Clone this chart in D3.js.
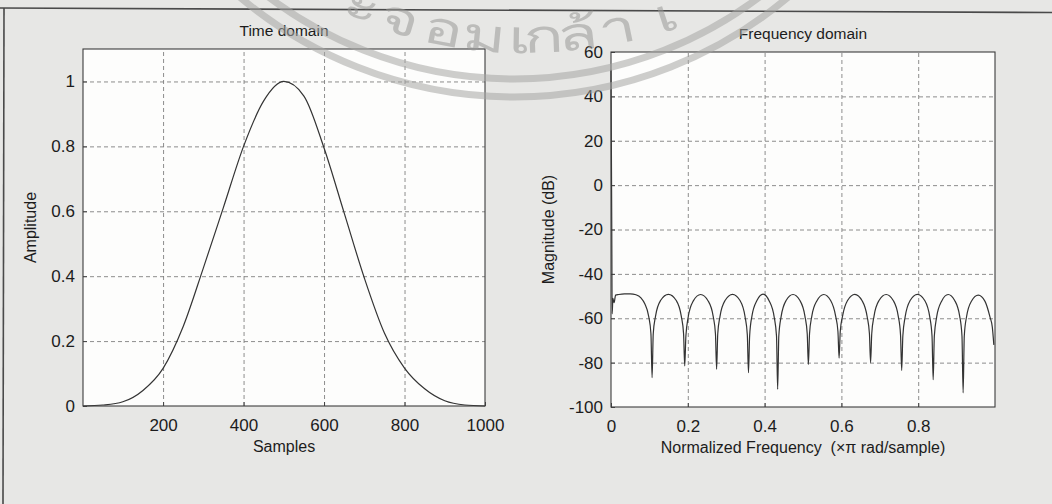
<!DOCTYPE html>
<html>
<head>
<meta charset="utf-8">
<script src="https://cdn.jsdelivr.net/npm/d3@7"></script>
<style>
  body { margin: 0; background: #e7e7e5; }
  svg { display: block; }
  text { font-family: "Liberation Sans", Arial, Helvetica, sans-serif; fill: #1c1c1c; }
  .grid line { stroke: #808080; stroke-width: 0.9; stroke-dasharray: 4,3; }
  .grid path { display: none; }
  .ticks path { display: none; }
  .ticks line { stroke: #444; }
  .ticks text { font-size: 17px; }
</style>
</head>
<body>
<div class="chart"></div>
<script>
// time domain window
const timeSamples = [1, 50, 100, 150, 200, 250, 300, 350, 400, 450, 500,
  550, 600, 650, 700, 750, 800, 850, 900, 950, 1000];
const timeAmplitude = [0.0, 0.003, 0.013, 0.048, 0.116, 0.245, 0.425, 0.612, 0.80, 0.94, 1.0,
  0.955, 0.795, 0.595, 0.395, 0.225, 0.117, 0.053, 0.016, 0.003, 0.0];

// frequency response (dB), one row per sidelobe arch
const normFreq = [
  0, 0.002, 0.003, 0.005, 0.008, 0.012, 0.02, 0.035, 0.05, 0.065, 0.078, 0.088, 0.098, 0.104, 0.107,
  0.110, 0.116, 0.129, 0.1495, 0.170, 0.183, 0.189, 0.192,
  0.195, 0.201, 0.214, 0.2335, 0.253, 0.266, 0.272, 0.275,
  0.278, 0.284, 0.297, 0.3165, 0.336, 0.349, 0.355, 0.358,
  0.361, 0.367, 0.380, 0.396, 0.412, 0.425, 0.431, 0.434,
  0.437, 0.443, 0.456, 0.474, 0.492, 0.505, 0.511, 0.514,
  0.517, 0.523, 0.536, 0.554, 0.572, 0.585, 0.591, 0.594,
  0.597, 0.603, 0.616, 0.635, 0.654, 0.667, 0.673, 0.676,
  0.679, 0.685, 0.698, 0.7165, 0.735, 0.748, 0.754, 0.757,
  0.760, 0.766, 0.779, 0.798, 0.817, 0.830, 0.836, 0.839,
  0.842, 0.848, 0.861, 0.878, 0.895, 0.908, 0.914, 0.917,
  0.920, 0.926, 0.939, 0.9565, 0.974, 0.987, 0.993, 0.997
];
const magnitudeDb = [
  52, -20, -58, -51, -53, -49.6, -49.3, -49, -49, -49.4, -50.8, -53.5, -59, -67, -86.8,
  -67, -59, -52, -49.2, -52, -59, -67, -81.5,
  -68, -59.5, -52.3, -49.3, -52.2, -59, -67, -83,
  -67, -59, -52, -49.2, -52, -59.2, -67.5, -84.5,
  -68, -59, -52, -49.1, -52.2, -59.5, -68, -92,
  -68, -59.3, -52, -49.3, -52, -59, -67, -80.8,
  -67, -59, -52.2, -49.3, -52, -59, -66, -78,
  -66, -59, -52, -49.2, -52.1, -59.2, -67, -80,
  -67, -59, -52, -49.3, -52, -59, -67.5, -83.5,
  -68, -59.4, -52, -49.2, -52, -59.3, -68, -87.7,
  -68, -59.5, -52.3, -49.3, -52, -59, -68, -93.6,
  -68, -59.2, -52.2, -49.6, -52.4, -59.5, -64, -72
];

const sampleTicks = [200, 400, 600, 800, 1000];
const amplitudeTicks = [0, 0.2, 0.4, 0.6, 0.8, 1];
const freqTicks = [0, 0.2, 0.4, 0.6, 0.8];
const dbTicks = [-100, -80, -60, -40, -20, 0, 20, 40, 60];

// the scanned page's stamp: visible letters and where they sit on its ring (degrees)
const stampGlyphs = ["ะ", "จ", "อ", "ม", "เ", "ก", "ล้", "า", "เ"];
const stampAngles = [-22, -16.8, -11.1, -5.6, -1, 2.1, 6.5, 11.7, 18.2];

const W = 1052, H = 504;

const svg = d3.select(".chart").append("svg")
  .attr("width", W)
  .attr("height", H);

// figure frame
svg.append("line")
  .attr("x1", 0).attr("y1", 8).attr("x2", W).attr("y2", 12.5)
  .attr("stroke", "#4a4a4a").attr("stroke-width", 1.6);
svg.append("line")
  .attr("x1", 4).attr("y1", 8).attr("x2", 3).attr("y2", H)
  .attr("stroke", "#4a4a4a").attr("stroke-width", 1.6);

function panel(box, xDomain, yDomain, xTicks, yTicks, xFmt, yFmt, title, xLabel, yLabel, xs, ys, curve) {
  const width = box.right - box.left,
        height = box.bottom - box.top;
  const g = svg.append("g")
    .attr("transform", "translate(" + box.left + "," + box.top + ")");

  const xScale = d3.scaleLinear().domain(xDomain).range([0, width]);
  const yScale = d3.scaleLinear().domain(yDomain).range([height, 0]);

  g.append("rect")
    .attr("width", width).attr("height", height)
    .attr("fill", "#fdfdfc");

  g.append("g")
    .attr("class", "grid")
    .attr("transform", "translate(0," + height + ")")
    .call(d3.axisBottom(xScale).tickValues(xTicks.filter(t => t > xDomain[0] && t < xDomain[1]))
      .tickSize(-height).tickFormat(""));
  g.append("g")
    .attr("class", "grid")
    .call(d3.axisLeft(yScale).tickValues(yTicks.filter(t => t > yDomain[0] && t < yDomain[1]))
      .tickSize(-width).tickFormat(""));

  g.append("g")
    .attr("class", "ticks")
    .attr("transform", "translate(0," + height + ")")
    .call(d3.axisBottom(xScale).tickValues(xTicks).tickSizeInner(-4).tickSizeOuter(0)
      .tickPadding(13).tickFormat(xFmt));
  g.append("g")
    .attr("class", "ticks")
    .call(d3.axisLeft(yScale).tickValues(yTicks).tickSizeInner(-4).tickSizeOuter(0)
      .tickPadding(8).tickFormat(yFmt));

  const line = d3.line()
    .x((d, i) => xScale(xs[i]))
    .y((d, i) => yScale(ys[i]))
    .curve(curve);

  g.append("path")
    .datum(xs)
    .attr("fill", "none")
    .attr("stroke", "#333")
    .attr("stroke-width", 1.2)
    .attr("d", line);

  g.append("rect")
    .attr("width", width).attr("height", height)
    .attr("fill", "none")
    .attr("stroke", "#3c3c3c")
    .attr("stroke-width", 1.1);

  g.append("text")
    .attr("x", width / 2).attr("y", -13)
    .attr("text-anchor", "middle")
    .style("font-size", "15.5px")
    .text(title);

  g.append("text")
    .attr("x", width / 2).attr("y", height + 46)
    .attr("text-anchor", "middle")
    .style("font-size", "16px")
    .style("white-space", "pre")
    .text(xLabel);

  g.append("text")
    .attr("transform", "translate(" + box.yLabelX + "," + (height / 2) + ") rotate(-90)")
    .attr("text-anchor", "middle")
    .style("font-size", "16px")
    .text(yLabel);
}

panel({left: 83, right: 485, top: 49, bottom: 406, yLabelX: -47},
  [1, 1000], [0, 1.1], sampleTicks, amplitudeTicks,
  d3.format("d"), d => String(d),
  "Time domain", "Samples", "Amplitude",
  timeSamples, timeAmplitude, d3.curveMonotoneX);

panel({left: 611, right: 995, top: 52, bottom: 407, yLabelX: -57},
  [0, 1], [-100, 60], freqTicks, dbTicks,
  d => String(d), d => String(d),
  "Frequency domain", "Normalized Frequency  (\u00d7\u03c0 rad/sample)", "Magnitude (dB)",
  normFreq, magnitudeDb, d3.curveMonotoneX);

// stamp watermark, lies over the scan
const stamp = svg.append("g")
  .attr("class", "stamp")
  .attr("opacity", 0.55);
const ring = {x: 514, y: -329};
[426, 408].forEach(r => {
  stamp.append("circle")
    .attr("cx", ring.x).attr("cy", ring.y).attr("r", r)
    .attr("fill", "none")
    .attr("stroke", "#a6a6a4")
    .attr("stroke-width", 7);
});

const letterRing = {x: 528, y: -404, r: 457};
stamp.selectAll(".glyph")
  .data(stampGlyphs)
  .enter()
  .append("text")
  .attr("class", "glyph")
  .attr("text-anchor", "middle")
  .style("font-size", "46px")
  .style("fill", "#9a9a98")
  .attr("transform", (d, i) => {
    const a = stampAngles[i] * Math.PI / 180;
    const x = letterRing.x + letterRing.r * Math.sin(a),
          y = letterRing.y + letterRing.r * Math.cos(a);
    return "translate(" + x + "," + y + ") rotate(" + (-stampAngles[i]) + ") scale(1.45,1)";
  })
  .text(d => d);
</script>
</body>
</html>
